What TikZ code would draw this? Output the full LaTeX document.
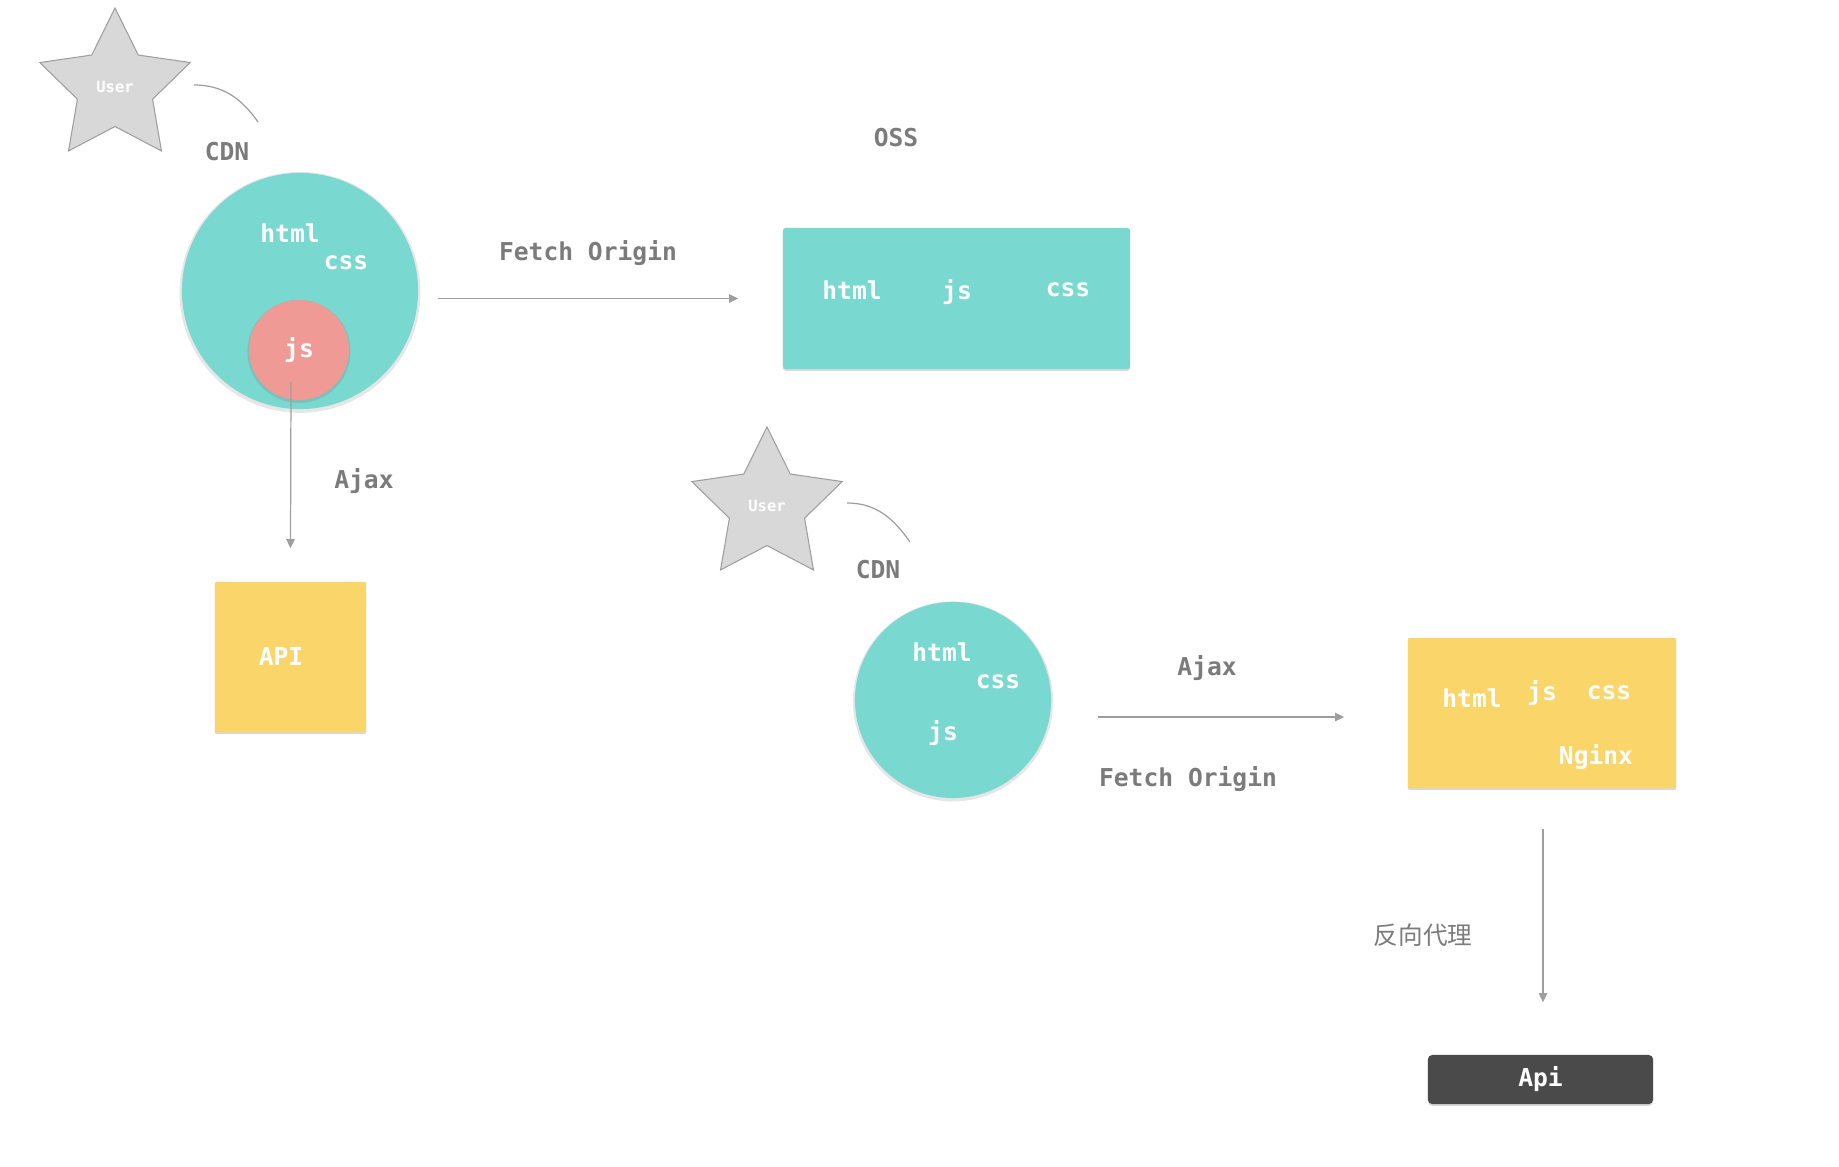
\documentclass[tikz,border=0pt]{standalone}
\usepackage{fontspec}
\setmonofont{DejaVu Sans Mono}
\newfontfamily\cjk{Noto Sans CJK SC}
\usepackage{tikz}
\usetikzlibrary{arrows.meta, positioning, shapes.geometric, shadows, calc}

\definecolor{tealfill}{HTML}{79D8CF}
\definecolor{yellowfill}{HTML}{FAD56A}
\definecolor{jsfill}{HTML}{EF9A94}
\definecolor{apifill}{HTML}{4A4A4A}
\definecolor{starfill}{HTML}{D8D8D8}
\definecolor{labelgrey}{HTML}{7B7B7B}
\definecolor{linegrey}{HTML}{9E9E9E}

\begin{document}
\begin{tikzpicture}[
    x=0.01cm, y=-0.01cm,
    every node/.style={font=\ttfamily\bfseries\fontsize{7}{8}\selectfont, text=white, inner sep=0pt},
    userstar/.style={star, star points=5, star point ratio=2, minimum size=1.58cm,
      fill=starfill, draw=linegrey, line width=0.3pt,
      font=\ttfamily\bfseries\fontsize{4.4}{5}\selectfont},
    bubble/.style={circle, fill=tealfill, drop shadow={opacity=0.2, shadow xshift=0pt, shadow yshift=-0.4pt, shadow scale=1.02}},
    jsball/.style={circle, fill=jsfill, minimum size=1cm, drop shadow={opacity=0.25, shadow xshift=0pt, shadow yshift=-0.4pt, shadow scale=1.03}},
    tealbox/.style={rectangle, rounded corners=0.8pt, fill=tealfill, drop shadow={opacity=0.3, shadow xshift=0pt, shadow yshift=-0.5pt}},
    yellowbox/.style={rectangle, rounded corners=0.3pt, fill=yellowfill, drop shadow={opacity=0.3, shadow xshift=0pt, shadow yshift=-0.5pt}},
    apibox/.style={rectangle, rounded corners=1.2pt, fill=apifill, drop shadow={opacity=0.3, shadow xshift=0pt, shadow yshift=-0.5pt}},
    lbl/.style={text=labelgrey},
    cjklbl/.style={text=labelgrey, font=\cjk\fontsize{7}{8}\selectfont},
    wire/.style={draw=linegrey, line width=0.35pt},
    arr/.style={wire, -{Triangle[length=2.6pt, width=2.4pt]}}
  ]
  \useasboundingbox (0,0) rectangle (1839,1167);

  % CDN + OSS
  \node[userstar] (user1) at (115,87) {User};
  \coordinate (arc1s) at (194,85);
  \coordinate (arc1e) at (258,122);
  \draw[wire] (arc1s) to[out=0, in=125] (arc1e);
  \node[lbl] (cdnlbl1) at (227,152) {CDN};

  \node[bubble, minimum size=2.36cm] (cdn1) at (300,291) {};
  \node (cdnhtml1) at (290,233) {html};
  \node (cdncss1) at (346,263) {css};
  \node[jsball] (js1) at (299,350) {js};

  \node[tealbox, minimum width=3.47cm, minimum height=1.41cm] (oss) at (956.5,298.5) {};
  \node (osshtml) at (852,290) {html};
  \node (ossjs) at (957,292) {js};
  \node (osscss) at (1068,290) {css};
  \node[lbl] (osslbl) at (896,138) {OSS};

  \node[lbl] (fetch1) at (588,253) {Fetch Origin};
  \draw[arr] ($(cdn1.east |- oss.west)+(19,0)$) -- ($(oss.west)+(-44,0)$);

  \node[yellowbox, minimum width=1.51cm, minimum height=1.50cm] (api1) at (290.5,657) {};
  \node (apitext1) at (281,657) {API};
  \node[lbl] (ajax1) at (364,481) {Ajax};
  \coordinate (ajaxtop) at (291,382);
  \draw[arr] (ajaxtop) -- ($(api1.north)+(0,-33)$);

  % CDN + Nginx
  \node[userstar] (user2) at (767,506) {User};
  \coordinate (arc2s) at (847,503);
  \coordinate (arc2e) at (910,542);
  \draw[wire] (arc2s) to[out=0, in=125] (arc2e);
  \node[lbl] (cdnlbl2) at (878,570) {CDN};

  \node[bubble, minimum size=1.96cm] (cdn2) at (953,700) {};
  \node (cdnhtml2) at (942,652) {html};
  \node (cdncss2) at (998,682) {css};
  \node (cdnjs2) at (943,733) {js};

  \node[yellowbox, minimum width=2.68cm, minimum height=1.50cm] (nginx) at (1542,713) {};
  \node (nghtml) at (1472,698) {html};
  \node (ngjs) at (1542,693) {js};
  \node (ngcss) at (1609,693) {css};
  \node (ngname) at (1596,757) {Nginx};

  \node[lbl] (ajax2) at (1207,668) {Ajax};
  \node[lbl] (fetch2) at (1188,779) {Fetch Origin};
  \draw[arr] ($(cdn2.east |- nginx.west)+(46,4)$) -- ($(nginx.west)+(-63,4)$);

  \node[apibox, minimum width=2.25cm, minimum height=0.49cm] (api2) at (1540.5,1079.5) {Api};
  \node[cjklbl] (proxy) at (1423,935) {反向代理};
  \draw[arr] ($(nginx.south)+(1,40)$) -- ($(api2.north -| nginx.south)+(1,-52)$);
\end{tikzpicture}
\end{document}
